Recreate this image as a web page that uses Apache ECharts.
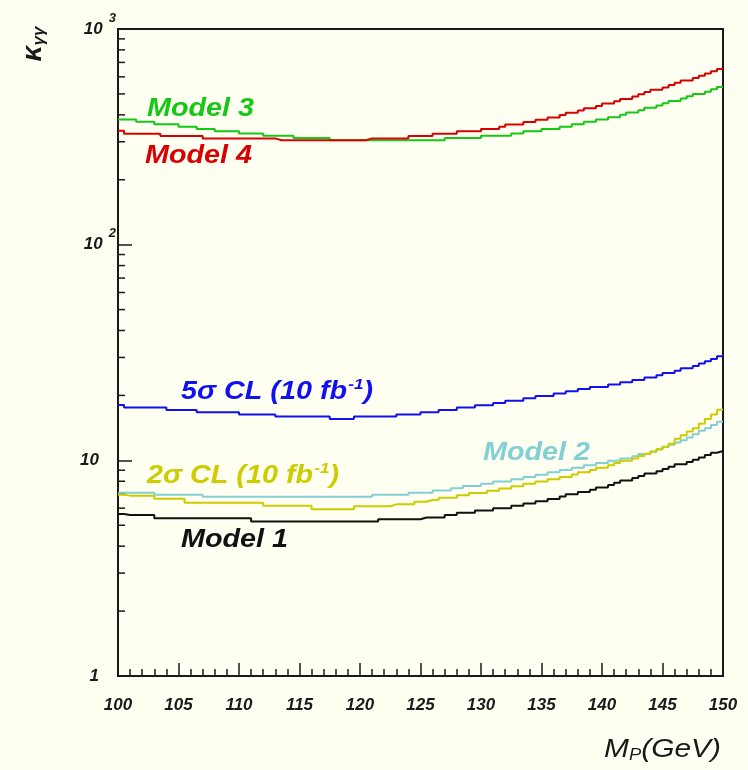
<!DOCTYPE html>
<html>
<head>
<meta charset="utf-8">
<script src="https://cdn.jsdelivr.net/npm/echarts@6/dist/echarts.min.js"></script>
<style>
  html, body { margin: 0; padding: 0; background: #fffff2; }
  #chart { width: 748px; height: 770px; }
</style>
</head>
<body>
<div id="chart"></div>
<script>
// ---- data (kappa_gammagamma vs M_P, 0.5 GeV bins from 100 to 150, levels) ----
const massEdges = [100,100.5,101,101.5,102,102.5,103,103.5,104,104.5,105,105.5,106,106.5,107,107.5,108,108.5,109,109.5,
  110,110.5,111,111.5,112,112.5,113,113.5,114,114.5,115,115.5,116,116.5,117,117.5,118,118.5,119,119.5,
  120,120.5,121,121.5,122,122.5,123,123.5,124,124.5,125,125.5,126,126.5,127,127.5,128,128.5,129,129.5,
  130,130.5,131,131.5,132,132.5,133,133.5,134,134.5,135,135.5,136,136.5,137,137.5,138,138.5,139,139.5,
  140,140.5,141,141.5,142,142.5,143,143.5,144,144.5,145,145.5,146,146.5,147,147.5,148,148.5,149,149.5,150];

const model3 = [381,381,381,371,371,371,362,362,362,362,
  352,352,352,344,344,344,336,336,336,336,
  328,328,328,328,320,320,320,320,320,312,
  312,312,312,312,312,305,305,305,305,305,
  305,305,305,305,305,305,305,305,305,305,
  305,305,305,305,312,312,312,312,312,312,
  320,320,320,320,320,328,328,336,336,336,
  344,344,344,352,352,362,362,371,371,381,
  381,390,390,400,410,410,420,431,431,442,
  453,464,464,476,488,500,500,512,525,538];

const model4 = [337,327,327,327,327,327,327,319,319,319,
  319,319,319,319,311,311,311,311,311,311,
  311,311,311,311,311,311,305,305,305,305,
  305,305,305,305,305,305,305,305,305,305,
  305,311,311,311,311,311,311,311,319,319,
  319,319,327,327,327,327,336,336,336,336,
  344,344,344,352,361,361,361,370,370,379,
  379,389,389,399,409,409,419,429,429,440,
  451,451,462,474,474,486,498,510,523,523,
  536,550,563,577,577,592,607,622,637,653];

const sigma5 = [18.07,17.56,17.56,17.56,17.56,17.56,17.56,17.56,17.13,17.13,
  17.13,17.13,17.13,16.71,16.71,16.71,16.71,16.71,16.71,16.71,
  16.33,16.33,16.33,16.33,16.33,16.33,15.95,15.95,15.95,15.95,
  15.95,15.95,15.95,15.95,15.95,15.56,15.56,15.56,15.56,15.95,
  15.95,15.95,15.95,15.95,15.95,15.95,16.33,16.33,16.33,16.33,
  16.71,16.71,16.71,17.13,17.13,17.13,17.56,17.56,17.56,18.0,
  18.0,18.0,18.45,18.45,18.9,18.9,18.9,19.4,19.4,19.9,
  19.9,19.9,20.4,20.4,20.9,20.9,21.4,21.4,21.9,21.9,
  21.9,22.5,22.5,23.0,23.0,23.6,23.6,24.2,24.2,24.8,
  25.4,25.4,26.0,26.7,26.7,27.4,28.1,28.8,29.5,30.4];

const model2 = [7.07,7.07,7.07,7.07,7.07,7.07,6.92,6.92,6.92,6.92,
  6.92,6.92,6.92,6.92,6.77,6.77,6.77,6.77,6.77,6.77,
  6.77,6.77,6.77,6.77,6.77,6.77,6.77,6.77,6.77,6.77,
  6.77,6.77,6.77,6.77,6.77,6.77,6.77,6.77,6.77,6.77,
  6.77,6.77,6.92,6.92,6.92,6.92,6.92,6.92,7.07,7.07,
  7.07,7.07,7.24,7.24,7.24,7.42,7.42,7.6,7.6,7.6,
  7.78,7.78,7.97,7.97,7.97,8.17,8.17,8.37,8.37,8.58,
  8.58,8.8,8.8,9.02,9.02,9.25,9.25,9.48,9.48,9.72,
  9.72,9.96,9.96,10.2,10.2,10.45,10.7,10.7,10.97,11.25,
  11.53,11.82,12.1,12.4,12.75,13.2,13.7,14.1,14.6,15.1];

const sigma2 = [6.92,6.86,6.86,6.86,6.86,6.86,6.64,6.64,6.64,6.64,
  6.64,6.36,6.36,6.36,6.36,6.36,6.36,6.36,6.36,6.36,
  6.36,6.36,6.36,6.36,6.15,6.15,6.15,6.15,6.15,6.15,
  6.15,6.15,5.93,5.93,5.93,5.93,5.93,5.93,5.93,6.13,
  6.13,6.13,6.13,6.13,6.13,6.25,6.25,6.25,6.25,6.43,
  6.43,6.55,6.55,6.71,6.71,6.71,6.88,6.88,7.05,7.05,
  7.05,7.23,7.23,7.41,7.41,7.59,7.59,7.78,7.78,7.98,
  7.98,8.18,8.18,8.38,8.38,8.59,8.81,8.81,9.03,9.25,
  9.25,9.48,9.72,9.96,9.96,10.21,10.47,10.73,11.0,11.27,
  11.55,11.95,12.6,13.07,13.6,14.1,14.79,15.54,16.32,17.15];

const model1 = [5.64,5.58,5.58,5.58,5.58,5.58,5.39,5.39,5.39,5.39,
  5.39,5.39,5.39,5.39,5.39,5.39,5.39,5.39,5.39,5.39,
  5.39,5.39,5.2,5.2,5.2,5.2,5.2,5.2,5.2,5.2,
  5.2,5.2,5.2,5.2,5.2,5.2,5.2,5.2,5.2,5.2,
  5.2,5.2,5.2,5.33,5.33,5.33,5.33,5.33,5.33,5.33,
  5.43,5.43,5.43,5.43,5.58,5.58,5.72,5.72,5.72,5.86,
  5.86,5.86,6.0,6.0,6.0,6.15,6.15,6.3,6.3,6.46,
  6.46,6.62,6.62,6.79,6.96,6.96,7.13,7.13,7.31,7.49,
  7.49,7.68,7.87,8.07,8.07,8.27,8.47,8.69,8.69,8.9,
  9.12,9.35,9.59,9.59,9.83,10.07,10.32,10.58,10.85,11.05];

// axis ticks / labels
const xTickLabels = ['100','105','110','115','120','125','130','135','140','145','150'];
const yTickValues = [1, 10, 100, 1000];
const yTickBase = ['1', '10', '10', '10'];
const yTickExp = ['', '', '2', '3'];
const yMinorTicks = [2,3,4,5,6,7,8,9,20,30,40,50,60,70,80,90,200,300,400,500,600,700,800,900];

// series labels
const seriesNames = ['Model 1', 'Model 2', '2σ CL (10 fb-1)', '5σ CL (10 fb-1)', 'Model 3', 'Model 4'];

// ---- build ----
function stepData(vals) {
  return massEdges.map((x, i) => [x, vals[Math.min(i, vals.length - 1)]]);
}

const INK = '#1a1a1a';
const FONT = '"Liberation Sans", Arial, Helvetica, sans-serif';

const curves = [
  { name: seriesNames[0], data: model1, color: '#111111' },
  { name: seriesNames[1], data: model2, color: '#82d0d4' },
  { name: seriesNames[2], data: sigma2, color: '#cccc00' },
  { name: seriesNames[3], data: sigma5, color: '#1010f0' },
  { name: seriesNames[4], data: model3, color: '#16c816' },
  { name: seriesNames[5], data: model4, color: '#d80000' }
];

const chart = echarts.init(document.getElementById('chart'), null, { renderer: 'canvas' });

const series = curves.map(c => ({
  name: c.name,
  type: 'line',
  step: 'end',
  showSymbol: false,
  symbol: 'none',
  data: stepData(c.data),
  lineStyle: { color: c.color, width: 2 },
  itemStyle: { color: c.color },
  animation: false,
  silent: true
}));

series.push({
  type: 'custom',
  name: 'yMinorTicks',
  silent: true,
  animation: false,
  clip: false,
  data: yMinorTicks.map(v => [100, v]),
  renderItem: function (params, api) {
    const p = api.coord([api.value(0), api.value(1)]);
    return {
      type: 'line',
      shape: { x1: p[0], y1: p[1], x2: p[0] + 7, y2: p[1] },
      style: { stroke: INK, lineWidth: 1.5 }
    };
  }
});

function label(text, x, y, color, extra) {
  return Object.assign({
    type: 'text',
    x: x, y: y,
    scaleX: 1.15,
    silent: true,
    style: {
      text: text,
      fill: color,
      font: 'italic bold 25px ' + FONT,
      align: 'left',
      verticalAlign: 'middle',
      rich: {
        sup: { fill: color, font: 'italic bold 15px ' + FONT, padding: [0, 0, 14, 1] }
      }
    }
  }, extra || {});
}

const option = {
  backgroundColor: '#fffff2',
  animation: false,
  grid: {
    left: 118, right: 25, top: 29, bottom: 94,
    show: true, borderColor: INK, borderWidth: 2, backgroundColor: 'transparent'
  },
  xAxis: {
    type: 'value',
    min: 100, max: 150, interval: 5,
    axisLine: { show: true, lineStyle: { color: INK, width: 2 } },
    axisTick: { show: true, inside: true, length: 13, lineStyle: { color: INK, width: 1.5 } },
    minorTick: { show: true, splitNumber: 5, length: 7, lineStyle: { color: INK, width: 1.5 } },
    splitLine: { show: false },
    minorSplitLine: { show: false },
    axisLabel: {
      margin: 21,
      color: INK,
      fontSize: 17,
      fontStyle: 'italic',
      fontWeight: 'bold',
      fontFamily: FONT,
      formatter: function (v) {
        const i = Math.round((v - 100) / 5);
        return xTickLabels[i] !== undefined ? xTickLabels[i] : '';
      }
    }
  },
  yAxis: {
    type: 'log',
    logBase: 10,
    min: 1, max: 1000,
    axisLine: { show: true, lineStyle: { color: INK, width: 2 } },
    axisTick: { show: true, inside: true, length: 14, lineStyle: { color: INK, width: 1.5 } },
    splitLine: { show: false },
    axisLabel: {
      margin: 2,
      color: INK,
      formatter: function (v) {
        const i = yTickValues.indexOf(Math.round(v));
        if (i < 0) return '';
        if (yTickExp[i]) return '{b|' + yTickBase[i] + '}{s|' + yTickExp[i] + '}';
        return '{b|' + yTickBase[i] + '}{e|}';
      },
      rich: {
        b: { fontSize: 17, fontStyle: 'italic', fontWeight: 'bold', fontFamily: FONT, color: INK },
        s: { fontSize: 13, fontStyle: 'italic', fontWeight: 'bold', fontFamily: FONT, color: INK, padding: [0, 0, 22, 6] },
        e: { width: 17 }
      }
    }
  },
  graphic: [
    label(seriesNames[4], 147, 109, '#16c816'),
    label(seriesNames[5], 145, 156, '#d80000'),
    label('5σ CL (10 fb{sup|-1})', 181, 392, '#1010f0'),
    label('2σ CL (10 fb{sup|-1})', 147, 476, '#cccc00'),
    label(seriesNames[1], 483, 453, '#82d0d4'),
    label(seriesNames[0], 181, 540, '#111111'),
    {
      type: 'text',
      x: 33, y: 44,
      rotation: Math.PI / 2,
      silent: true,
      style: {
        text: '{k|κ}{g|γγ}',
        align: 'center',
        verticalAlign: 'middle',
        fill: INK,
        rich: {
          k: { font: 'italic bold 28px ' + FONT, fill: INK },
          g: { font: 'italic bold 17px ' + FONT, fill: INK, padding: [13, 0, 0, 0] }
        }
      }
    },
    {
      type: 'text',
      x: 721, y: 750,
      scaleX: 1.15,
      silent: true,
      style: {
        text: '{m|M}{p|P}{m|(GeV)}',
        align: 'right',
        verticalAlign: 'middle',
        fill: INK,
        rich: {
          m: { font: 'italic 26px ' + FONT, fill: INK },
          p: { font: 'italic 16px ' + FONT, fill: INK, padding: [12, 0, 0, 0] }
        }
      }
    }
  ],
  series: series
};

chart.setOption(option);
</script>
</body>
</html>
